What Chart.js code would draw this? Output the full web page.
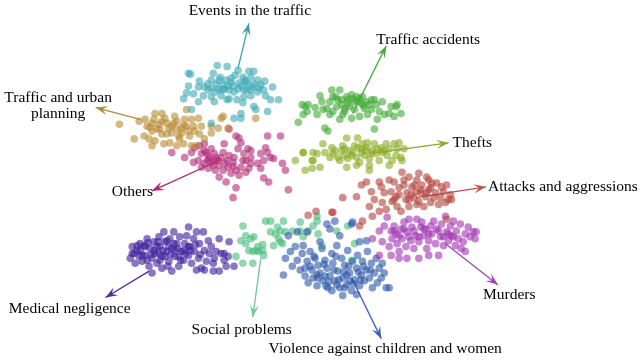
<!DOCTYPE html>
<html>
<head>
<meta charset="utf-8">
<title>Topic clusters</title>
<script src="https://cdn.jsdelivr.net/npm/chart.js@4/dist/chart.umd.min.js"></script>
<style>
  body{margin:0;background:#fff;}
  #wrap{width:640px;height:363px;position:relative;}
</style>
</head>
<body>
<div id="wrap"><canvas id="clusterChart"></canvas></div>
<script>
// cluster points (x right, y down, in picture units)
const eventsTraffic=[[187,71],[189,72],[216,63],[226,64],[237,68],[248,69],[253,69],[212,71],[234,73],[242,75],[250,75],[257,78],[264,79],[272,85],[210,78],[218,78],[225,78],[230,80],[238,81],[247,82],[253,82],[260,83],[198,79],[203,85],[210,86],[217,87],[223,87],[228,88],[237,87],[243,88],[250,88],[257,90],[263,88],[187,84],[197,85],[185,91],[192,92],[202,94],[210,95],[220,94],[228,97],[236,98],[243,95],[250,94],[265,94],[182,97],[197,100],[213,100],[226,98],[242,101],[253,105],[255,108],[270,98],[278,98],[267,110],[240,112],[233,117],[240,117],[210,122],[190,108],[222,83],[232,84],[245,80],[214,90],[206,82],
    [215,82],[221,88],[227,84],[233,90],[240,84],[246,88],[252,85],[258,86],[230,76],[244,78],[219,75],[207,88]];
const trafficPlanning=[[117,123],[132,138],[137,120],[143,118],[145,125],[142,135],[152,118],[153,112],[160,112],[163,117],[157,123],[150,130],[153,140],[162,143],[168,142],[160,133],[167,127],[172,122],[170,132],[177,135],[180,127],[183,118],[185,108],[190,118],[192,125],[188,135],[182,143],[175,145],[197,117],[200,125],[198,133],[203,138],[195,145],[190,145],[210,132],[217,127],[220,117],[227,127],[222,115],[255,117],[150,145],[147,138],[173,115],[178,138],[187,130],[210,125],[165,122],[175,128],[158,128],[182,124],
    [150,122],[155,128],[160,120],[165,133],[170,125],[175,120],[180,132],[185,125],[148,126],[193,130]];
const others=[[170,152],[183,157],[192,162],[193,147],[198,145],[203,143],[200,153],[205,152],[210,148],[213,153],[208,158],[203,163],[200,167],[207,168],[212,165],[217,160],[220,157],[222,152],[223,143],[228,128],[235,135],[238,137],[240,142],[237,148],[233,157],[232,162],[227,167],[222,170],[218,177],[225,182],[230,173],[235,170],[240,167],[245,160],[243,153],[247,148],[250,150],[250,157],[250,163],[245,172],[238,175],[235,188],[248,168],[257,163],[260,153],[265,147],[267,135],[267,152],[270,157],[263,160],[260,168],[263,178],[268,182],[273,158],[280,135],[282,163],[285,170],[288,190],[232,198],[197,160],[190,152],[215,157],[210,162],[226,160],
    [203,150],[207,155],[213,160],[218,165],[224,163],[228,155],[206,160],[214,170],[232,166],[242,160]];
const trafficAccidents=[[298,121],[302,103],[305,105],[303,113],[307,110],[308,103],[315,106],[317,113],[320,94],[322,100],[323,108],[327,107],[332,88],[333,95],[333,110],[338,98],[340,88],[342,103],[343,113],[347,95],[348,98],[350,105],[352,93],[355,100],[357,95],[360,97],[362,102],[360,115],[365,107],[367,100],[368,113],[372,108],[375,98],[377,103],[378,118],[380,110],[383,100],[385,113],[390,112],[392,105],[395,115],[397,105],[402,112],[398,103],[325,127],[328,130],[340,118],[352,117],[375,128],[337,105],[345,107],[355,108],[363,95],[370,103],
    [330,100],[336,95],[342,98],[348,102],[353,97],[358,100],[364,104],[372,98],[345,110],[330,113]];
const thefts=[[295,160],[303,152],[305,170],[312,160],[313,152],[317,153],[320,167],[323,143],[325,152],[330,157],[332,147],[333,153],[338,157],[342,150],[343,145],[345,155],[347,137],[348,158],[350,150],[353,152],[357,157],[358,137],[358,147],[360,162],[362,152],[363,143],[365,155],[367,147],[368,142],[370,158],[370,170],[373,150],[375,143],[377,153],[380,160],[382,147],[383,152],[387,143],[388,155],[390,148],[393,160],[395,143],[397,155],[398,148],[400,142],[402,157],[403,160],[405,148],[347,167],[312,168],[357,165],[370,165],[390,165],[303,152],[313,160],
    [335,150],[345,148],[352,155],[355,145],[362,148],[366,150],[372,153],[378,148],[385,150],[340,160]];
const attacks=[[332,213],[343,198],[357,197],[362,185],[363,222],[367,182],[370,207],[372,192],[373,217],[380,182],[382,187],[383,203],[385,193],[387,210],[390,180],[392,192],[393,202],[395,182],[397,197],[398,207],[400,188],[402,212],[403,172],[405,180],[407,200],[408,193],[410,177],[410,207],[413,187],[415,198],[417,192],[418,180],[420,202],[422,193],[423,185],[425,207],[427,197],[428,177],[430,190],[432,203],[433,183],[435,198],[437,193],[438,183],[440,205],[442,198],[443,187],[445,192],[447,203],[448,185],[450,200],[452,195],[453,200],[448,220],[360,227],[375,200],[380,212],[420,173],[430,180],[308,216],[316,212],[333,213],
    [400,195],[405,185],[412,195],[416,185],[422,190],[428,193],[432,188],[395,200],[410,200],[418,205]];
const murders=[[373,240],[380,232],[383,243],[385,227],[388,218],[390,248],[392,232],[393,240],[395,227],[397,235],[398,245],[400,253],[402,230],[403,240],[405,223],[407,248],[408,233],[410,220],[412,242],[413,228],[415,250],[417,237],[418,220],[420,243],[422,228],[423,223],[425,237],[427,230],[428,250],[430,242],[432,227],[433,235],[435,222],[437,245],[438,230],[440,257],[442,238],[443,225],[445,247],[447,217],[448,233],[450,242],[452,227],[453,237],[455,222],[457,247],[458,232],[460,240],[462,225],[463,250],[465,243],[467,235],[470,228],[472,238],[475,233],[477,240],[430,257],[400,260],[392,257],[408,260],[380,257],[420,260],[467,253],[478,233],
    [395,232],[400,237],[405,230],[410,238],[415,232],[425,230],[430,235],[440,232],[445,238],[450,235],[455,238],[420,238]];
const violence=[[283,277],[285,260],[290,253],[292,268],[295,248],[297,262],[300,272],[302,255],[303,247],[305,278],[307,263],[308,285],[310,253],[312,272],[313,280],[315,260],[317,288],[318,267],[320,275],[322,250],[323,283],[325,262],[327,270],[328,290],[330,278],[332,255],[333,265],[335,283],[337,247],[338,273],[340,290],[342,260],[343,280],[345,267],[347,287],[348,252],[350,275],[352,293],[353,263],[355,282],[357,270],[358,257],[360,288],[362,277],[363,263],[365,283],[367,272],[368,253],[370,280],[372,265],[373,290],[375,275],[377,260],[378,285],[380,270],[382,280],[383,265],[387,290],[390,290],[385,275],[343,298],[357,297],[330,230],[335,222],[327,225],[352,225],[307,233],[297,233],[288,237],[340,237],[360,243],[367,242],[320,243],[332,293],[337,287],[347,277],[350,283],[325,278],[317,277],[353,223],
    [310,268],[318,280],[324,266],[329,284],[334,272],[339,282],[344,274],[349,268],[354,286],[359,274],[364,268],[314,258],[336,258],[345,290],[326,288],[361,282],[371,272],[305,270]];
const socialProblems=[[242,227],[240,242],[245,237],[250,240],[253,238],[248,252],[252,253],[255,252],[258,253],[262,252],[263,257],[257,248],[265,222],[270,222],[270,233],[275,235],[278,240],[280,232],[282,245],[285,233],[273,247],[283,222],[292,232],[300,223],[303,238],[308,232],[313,227],[317,222],[317,217],[318,235],[322,247],[337,232],[348,227],[352,262],[355,245],[242,265],[252,265],[235,258],[280,243],
    [245,245],[262,246],[277,228],[300,232]];
const medicalNegligence=[[128,260],[130,248],[132,255],[133,265],[135,247],[137,258],[138,252],[140,263],[142,247],[143,257],[145,240],[147,268],[148,250],[150,260],[152,243],[153,255],[155,265],[157,238],[158,248],[160,258],[162,233],[163,243],[165,253],[167,263],[168,240],[170,250],[172,233],[173,258],[175,245],[177,268],[178,238],[180,253],[182,262],[183,245],[185,237],[187,257],[188,248],[190,265],[192,240],[193,253],[195,233],[197,260],[198,245],[200,270],[202,233],[203,252],[205,263],[207,242],[208,255],[210,248],[212,265],[213,260],[215,253],[218,240],[220,255],[223,262],[225,268],[228,243],[227,258],[218,273],[212,273],[203,272],[195,272],[187,228],[150,275],[170,273],[160,270],[130,255],[143,248],[157,255],[167,248],[177,258],[187,248],[152,252],[163,258],[173,252],[182,252],[233,268],[223,255],
    [135,252],[140,257],[146,244],[149,256],[155,248],[158,262],[161,252],[165,242],[169,256],[172,245],[176,250],[179,262],[184,255],[189,252],[194,246],[199,256],[145,262],[138,245],[166,268],[156,243]];

// arrow tails and tips
const arrowFrom=[[237,66],[138,118],[220,159],[353,112],[370,153],[417,198],[447,245],[352,280],[260,260],[147,273]];
const arrowTo=[[248,20],[93,106],[150,191],[387,43],[450,142],[488,187],[500,287],[382,342],[252,320],[103,300]];

const topicNames=['Events in the traffic','Traffic and urban planning','Others','Traffic accidents','Thefts','Attacks and aggressions','Murders','Violence against children and women','Social problems','Medical negligence'];
const clusterPoints=[eventsTraffic,trafficPlanning,others,trafficAccidents,thefts,attacks,murders,violence,socialProblems,medicalNegligence];

const dotColors=['58,168,178','184,138,48','178,44,120','64,168,52','138,170,34','178,66,58','160,50,178','42,86,168','70,186,122','60,28,156'];
const arrowColors=['#3aa0aa','#b08a40','#a8286e','#4aa840','#8aa828','#b8564e','#a040b8','#3a60b8','#70c898','#4a2aaa'];

// label anchors: [x, y, align]
const labelSpots=[
    [249,7,'center'],[55,96,'center'],[151,192,'right'],[377,37,'left'],[454,142,'left'],
    [490,187,'left'],[485,297,'left'],[268,353,'left'],[190,333,'left'],[5,312,'left']
];

const datasets=[];
clusterPoints.forEach((pts,i)=>{
    datasets.push({
        type:'scatter',
        label:topicNames[i],
        data:pts.map(p=>({x:p[0],y:p[1]})),
        backgroundColor:'rgba('+dotColors[i]+',0.6)',
        borderWidth:0,
        pointRadius:3.8,
        pointHoverRadius:3.8
    })
})
arrowFrom.forEach((a,i)=>{
    datasets.push({
        type:'line',
        label:'arrow '+topicNames[i],
        data:[{x:a[0],y:a[1]},{x:arrowTo[i][0],y:arrowTo[i][1]}],
        borderColor:arrowColors[i],
        borderWidth:1.3,
        pointRadius:0,
        isArrow:true
    })
})

// arrow heads + topic labels
const arrowLabelPlugin={
    id:'arrowLabels',
    afterDatasetsDraw(chart){
        const ctx=chart.ctx;
        const xs=chart.scales.x, ys=chart.scales.y;
        chart.data.datasets.forEach((ds,di)=>{
            if(!ds.isArrow) return;
            const pts=chart.getDatasetMeta(di).data;
            const p0=pts[0], p1=pts[1];
            const ang=Math.atan2(p1.y-p0.y,p1.x-p0.x);
            ctx.save();
            ctx.translate(p1.x,p1.y);
            ctx.rotate(ang);
            ctx.fillStyle=ds.borderColor;
            ctx.beginPath();
            ctx.moveTo(0,0);
            ctx.lineTo(-12,-4.5);
            ctx.lineTo(-7,0);
            ctx.lineTo(-12,4.5);
            ctx.closePath();
            ctx.fill();
            ctx.restore();
        })
        ctx.save();
        ctx.fillStyle='#000';
        ctx.font='15.5px "Liberation Serif", "DejaVu Serif", serif';
        ctx.textBaseline='middle';
        topicNames.forEach((name,i)=>{
            const s=labelSpots[i];
            ctx.textAlign=s[2];
            const px=xs.getPixelForValue(s[0]);
            const py=ys.getPixelForValue(s[1]);
            if(i==1){
                ctx.fillText('Traffic and urban',px,py);
                ctx.fillText('planning',px,py+16);
            }else{
                ctx.fillText(name,px,py);
            }
        })
        ctx.restore();
    }
}

new Chart(document.getElementById('clusterChart'),{
    data:{datasets:datasets},
    options:{
        responsive:true,
        maintainAspectRatio:false,
        animation:false,
        layout:{padding:0},
        plugins:{legend:{display:false},tooltip:{enabled:false}},
        scales:{
            x:{type:'linear',min:0,max:640,display:false},
            y:{type:'linear',min:0,max:363,reverse:true,display:false}
        }
    },
    plugins:[arrowLabelPlugin]
})
</script>
</body>
</html>
